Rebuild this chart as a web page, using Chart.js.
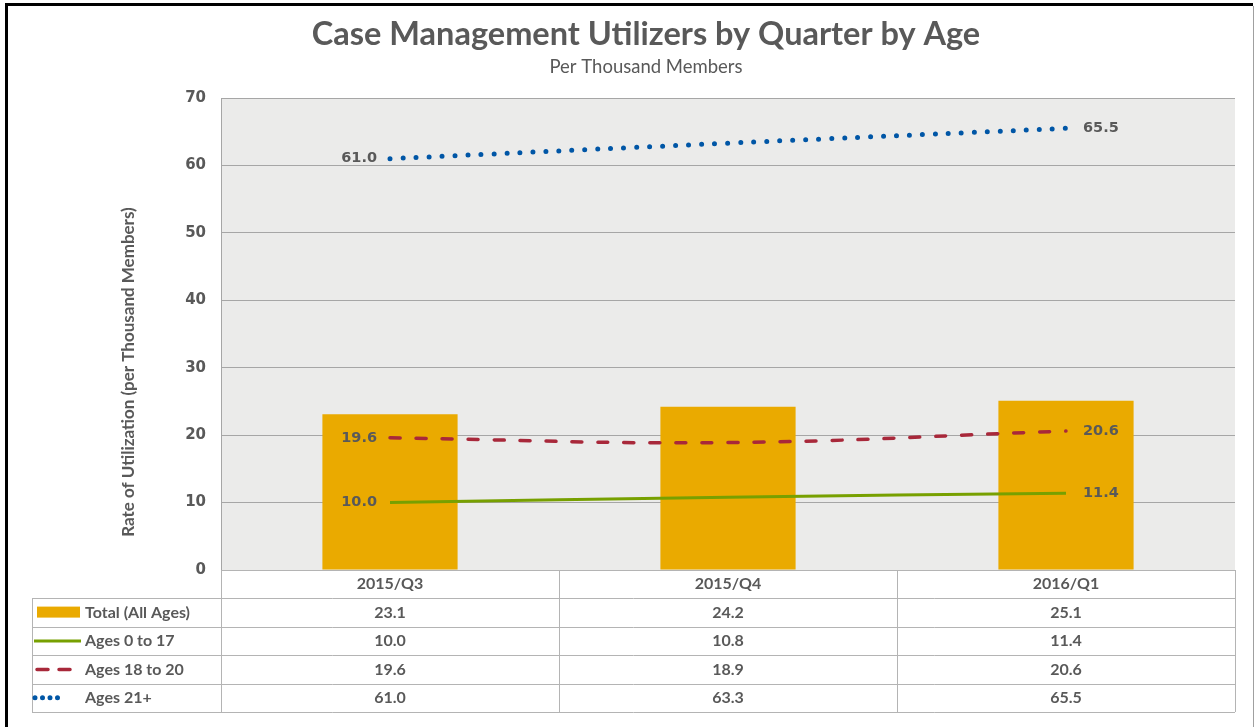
<!DOCTYPE html>
<html>
<head>
<meta charset="utf-8">
<title>Case Management Utilizers by Quarter by Age</title>
<script src="https://cdn.jsdelivr.net/npm/chart.js@4.4.1/dist/chart.umd.min.js"></script>
<style>
  html, body { margin: 0; padding: 0; background: #fff; }
  #wrap { position: relative; width: 1255px; height: 727px; }
</style>
</head>
<body>
<div id="wrap"><canvas id="utilChart" width="1255" height="727"></canvas></div>
<script>
// Trimestres y valores por grupo de edad (por mil miembros)
const quarters = ["2015/Q3", "2015/Q4", "2016/Q1"];
const totalAll = [23.1, 24.2, 25.1];
const ages0to17 = [10.0, 10.8, 11.4];
const ages18to20 = [19.6, 18.9, 20.6];
const ages21plus = [61.0, 63.3, 65.5];
const yTicks = [0, 10, 20, 30, 40, 50, 60, 70];

const TEXT = '#595959';
const GRID = '#a6a6a6';
const tableFont = '"Lato", "Noto Sans", sans-serif';
const labelFont = '"DejaVu Sans", Verdana, sans-serif';

// fondo gris del área del gráfico, marco exterior y títulos
const frame = {
    id: 'frame',
    beforeDraw(chart) {
        const { ctx, chartArea: a } = chart;
        ctx.save();
        ctx.fillStyle = '#ebebea';
        ctx.fillRect(a.left, a.top, a.right - a.left, a.bottom - a.top);
        ctx.restore();
    },
    afterDraw(chart) {
        const { ctx, chartArea: a } = chart;
        ctx.save();
        // borde del área
        ctx.strokeStyle = GRID;
        ctx.lineWidth = 1;
        ctx.beginPath();
        ctx.moveTo(a.left + 0.5, a.bottom);
        ctx.lineTo(a.left + 0.5, a.top + 0.5);
        ctx.lineTo(a.right, a.top + 0.5);
        ctx.stroke();
        // marco exterior
        ctx.fillStyle = '#000';
        ctx.fillRect(5, 3, 1248, 3);
        ctx.fillRect(5, 3, 3, 724);
        ctx.fillStyle = '#a0a0a0';
        ctx.fillRect(1253, 6, 1, 721);
        // títulos
        ctx.fillStyle = TEXT;
        ctx.textAlign = 'center';
        ctx.textBaseline = 'middle';
        ctx.font = 'bold 32.5px ' + tableFont;
        ctx.fillText('Case Management Utilizers by Quarter by Age', 646, 35);
        ctx.font = '18.5px ' + tableFont;
        ctx.fillText('Per Thousand Members', 646, 67);
        // título del eje Y (desplazado hacia abajo como en el original)
        ctx.translate(129, 372);
        ctx.rotate(-Math.PI / 2);
        ctx.font = 'bold 17px ' + tableFont;
        ctx.fillText('Rate of Utilization (per Thousand Members)', 0, 0);
        ctx.restore();
    }
};

// etiquetas del primer y último punto de cada línea
const endLabels = {
    id: 'endLabels',
    afterDatasetsDraw(chart) {
        const { ctx } = chart;
        ctx.save();
        ctx.font = 'bold 14.5px ' + labelFont;
        ctx.fillStyle = TEXT;
        ctx.textBaseline = 'middle';
        chart.data.datasets.forEach((ds, i) => {
            if (ds.type !== 'line') return;
            const pts = chart.getDatasetMeta(i).data;
            const first = pts[0], last = pts[pts.length - 1];
            ctx.textAlign = 'right';
            ctx.fillText(ds.data[0].toFixed(1), first.x - 13, first.y);
            ctx.textAlign = 'left';
            ctx.fillText(ds.data[ds.data.length - 1].toFixed(1), last.x + 17, last.y);
        });
        ctx.restore();
    }
};

// tabla de datos bajo el eje X
const dataTable = {
    id: 'dataTable',
    afterDraw(chart) {
        const { ctx, chartArea: a } = chart;
        const x = chart.scales.x;
        const rowH = 28.4;
        const top = a.bottom;
        const left = 32;
        const rows = chart.data.datasets.length;
        const bottom = top + rowH * (rows + 1);
        ctx.save();
        ctx.strokeStyle = '#b4b4b4';
        ctx.lineWidth = 1;
        ctx.beginPath();
        // líneas horizontales
        for (let r = 0; r <= rows + 1; r++) {
            const y = Math.round(top + r * rowH) + 0.5;
            ctx.moveTo(r === 0 ? a.left : left, y);
            ctx.lineTo(a.right, y);
        }
        // líneas verticales
        const step = (a.right - a.left) / quarters.length;
        for (let c = 0; c <= quarters.length; c++) {
            const xx = Math.round(a.left + c * step) + 0.5;
            ctx.moveTo(xx, top);
            ctx.lineTo(xx, bottom);
        }
        ctx.moveTo(left + 0.5, top + rowH);
        ctx.lineTo(left + 0.5, bottom);
        ctx.stroke();

        ctx.fillStyle = TEXT;
        ctx.textAlign = 'center';
        ctx.textBaseline = 'middle';
        ctx.font = 'bold 16px ' + tableFont;
        quarters.forEach((q, c) => {
            ctx.fillText(q, x.getPixelForValue(c), top + rowH / 2);
        });
        // filas: leyenda + valores
        chart.data.datasets.forEach((ds, r) => {
            const cy = top + rowH * (r + 1.5);
            ds.data.forEach((v, c) => {
                ctx.fillStyle = TEXT;
                ctx.textAlign = 'center';
                ctx.fillText(v.toFixed(1), x.getPixelForValue(c), cy);
            });
            // marcador de leyenda
            if (ds.type === 'bar') {
                ctx.fillStyle = ds.backgroundColor;
                ctx.fillRect(37, cy - 6, 43, 11);
            } else {
                ctx.strokeStyle = ds.borderColor;
                ctx.lineWidth = ds.borderWidth;
                ctx.lineCap = ds.borderCapStyle || 'butt';
                ctx.setLineDash(ds.legendDash || []);
                ctx.beginPath();
                ctx.moveTo(ds.legendStart || 34, cy);
                ctx.lineTo(ds.legendEnd || 81, cy);
                ctx.stroke();
                ctx.setLineDash([]);
                ctx.strokeStyle = '#b4b4b4';
                ctx.lineWidth = 1;
                ctx.lineCap = 'butt';
            }
            ctx.fillStyle = TEXT;
            ctx.textAlign = 'left';
            ctx.fillText(ds.label, 85, cy);
        });
        ctx.restore();
    }
};

new Chart(document.getElementById('utilChart'), {
    data: {
        labels: quarters,
        datasets: [
            {
                type: 'bar',
                label: 'Total (All Ages)',
                data: totalAll,
                backgroundColor: '#eaaa00',
                categoryPercentage: 1,
                barPercentage: 0.4,
                order: 5
            },
            {
                type: 'line',
                label: 'Ages 0 to 17',
                data: ages0to17,
                borderColor: '#77a000',
                borderWidth: 3,
                pointRadius: 0,
                tension: 0.4,
                order: 1
            },
            {
                type: 'line',
                label: 'Ages 18 to 20',
                data: ages18to20,
                borderColor: '#a8283a',
                borderWidth: 3.5,
                borderDash: [10, 16],
                borderCapStyle: 'round',
                legendDash: [11, 11],
                legendStart: 37,
                legendEnd: 70,
                pointRadius: 0,
                tension: 0.4,
                order: 1
            },
            {
                type: 'line',
                label: 'Ages 21+',
                data: ages21plus,
                borderColor: '#0056a6',
                borderWidth: 5,
                borderDash: [0, 13],
                borderCapStyle: 'round',
                legendDash: [0, 7.5],
                legendStart: 35,
                legendEnd: 58,
                pointRadius: 0,
                tension: 0.4,
                order: 1
            }
        ]
    },
    options: {
        responsive: false,
        animation: false,
        layout: { padding: { left: 119, right: 20, top: 98, bottom: 157 } },
        plugins: {
            legend: { display: false },
            title: { display: false },
            tooltip: { enabled: false }
        },
        scales: {
            x: {
                ticks: { display: false },
                grid: { display: false, drawTicks: false },
                border: { display: false },
                afterFit(scale) { scale.height = 0; }
            },
            y: {
                min: 0,
                max: 70,
                afterBuildTicks(scale) { scale.ticks = yTicks.map(v => ({ value: v })); },
                ticks: {
                    color: TEXT,
                    font: { family: labelFont, size: 15, weight: 'bold' },
                    padding: 15
                },
                grid: { color: GRID, drawTicks: false },
                border: { display: false },
                afterFit(scale) { scale.width = 102; }
            }
        }
    },
    plugins: [frame, endLabels, dataTable]
});
</script>
</body>
</html>
